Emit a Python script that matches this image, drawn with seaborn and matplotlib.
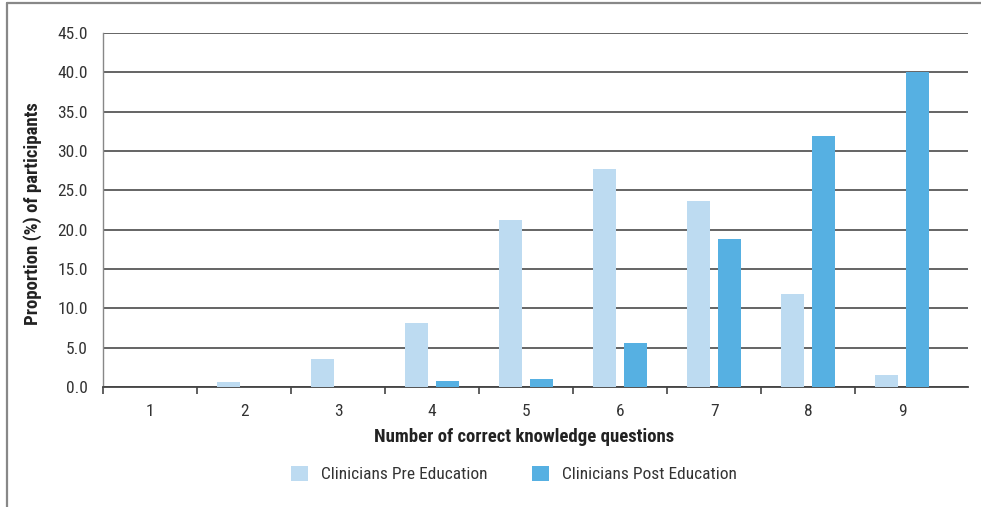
import matplotlib
matplotlib.use("Agg")
import matplotlib.pyplot as plt
from matplotlib import font_manager
from matplotlib.patches import Patch
from matplotlib.lines import Line2D
from matplotlib.ticker import FixedLocator
import seaborn as sns
import pandas as pd

# Data: share of clinicians (%) by number of correctly answered knowledge questions
scores = ["1", "2", "3", "4", "5", "6", "7", "8", "9"]
pre_education = [0.0, 0.6, 3.6, 8.1, 21.2, 27.7, 23.7, 11.8, 1.5]
post_education = [0.0, 0.0, 0.0, 0.8, 1.0, 5.6, 18.8, 31.9, 40.0]
series_names = ["Clinicians Pre Education", "Clinicians Post Education"]
series_colors = ["#BDDBF1", "#56B0E2"]
y_ticks = [0, 5, 10, 15, 20, 25, 30, 35, 40, 45]

df = pd.DataFrame({
    "score": scores * 2,
    "pct": pre_education + post_education,
    "group": [series_names[0]] * len(scores) + [series_names[1]] * len(scores),
})

sns.set_theme(style="white")
available = {f.name for f in font_manager.fontManager.ttflist}
family = next((f for f in ["Liberation Sans Narrow", "Roboto Condensed", "Open Sans Condensed",
                           "Liberation Sans", "DejaVu Sans"] if f in available), "DejaVu Sans")
plt.rcParams["font.family"] = [family, "DejaVu Sans"]

fig = plt.figure(figsize=(9.81, 5.07), dpi=100)
ax = fig.add_axes([103 / 981, 1 - 387 / 507, 865 / 981, 354 / 507])

sns.barplot(data=df, x="score", y="pct", hue="group", order=scores,
            hue_order=series_names, palette=series_colors, width=0.66, gap=0.26,
            saturation=1, legend=False, linewidth=0, edgecolor="none", ax=ax, zorder=3)

ax.set_ylim(0, 45)
ax.set_xlim(-0.5, 8.7)
ax.set_yticks(y_ticks)
ax.set_yticklabels([f"{v:.1f}" for v in y_ticks])
ax.yaxis.grid(True, color="#3a3a3a", linewidth=1.1, zorder=0)
ax.xaxis.grid(False)
ax.set_axisbelow(True)

# category boundaries carry the tick marks, labels sit at category centres
ax.xaxis.set_minor_locator(FixedLocator([i + 0.5 for i in range(-1, 8)]))
ax.tick_params(axis="x", which="major", length=0, pad=12, labelsize=12.5, labelcolor="#333333")
ax.tick_params(axis="x", which="minor", bottom=True, length=5, width=1.2, color="#444444")
ax.tick_params(axis="y", which="major", left=False, length=0, pad=11, labelsize=12.5,
               labelcolor="#333333")

for side in ["top", "right"]:
    ax.spines[side].set_visible(False)
ax.spines["left"].set_color("#888888")
ax.spines["left"].set_linewidth(1.0)
ax.spines["bottom"].set_color("#444444")
ax.spines["bottom"].set_linewidth(1.3)

ax.set_xlabel("Number of correct knowledge questions", fontsize=13.5, fontweight="bold",
              color="#222222")
ax.set_ylabel("Proportion (%) of participants", fontsize=13.5, fontweight="bold",
              color="#222222")
ax.xaxis.set_label_coords((524 - 103) / 865, (387 - 437) / 354)
ax.yaxis.set_label_coords((33 - 103) / 865, 0.49)
ax.xaxis.label.set_verticalalignment("center")
ax.yaxis.label.set_verticalalignment("center")

handles = [Patch(facecolor=c, edgecolor="none") for c in series_colors]
fig.legend(handles, series_names, loc="center", bbox_to_anchor=(514 / 981, 1 - 474 / 507),
           ncol=2, frameon=False, fontsize=12.5, handlelength=0.95, handleheight=0.95,
           handletextpad=0.75, columnspacing=2.6, labelcolor="#333333")

# outer frame (left and top edges)
fig.add_artist(Line2D([7 / 981, 7 / 981], [0, 1 - 3 / 507], transform=fig.transFigure,
                      color="#888888", linewidth=1.6))
fig.add_artist(Line2D([7 / 981, 1], [1 - 3 / 507, 1 - 3 / 507], transform=fig.transFigure,
                      color="#888888", linewidth=1.6))

fig.savefig("out.png", dpi=100)
